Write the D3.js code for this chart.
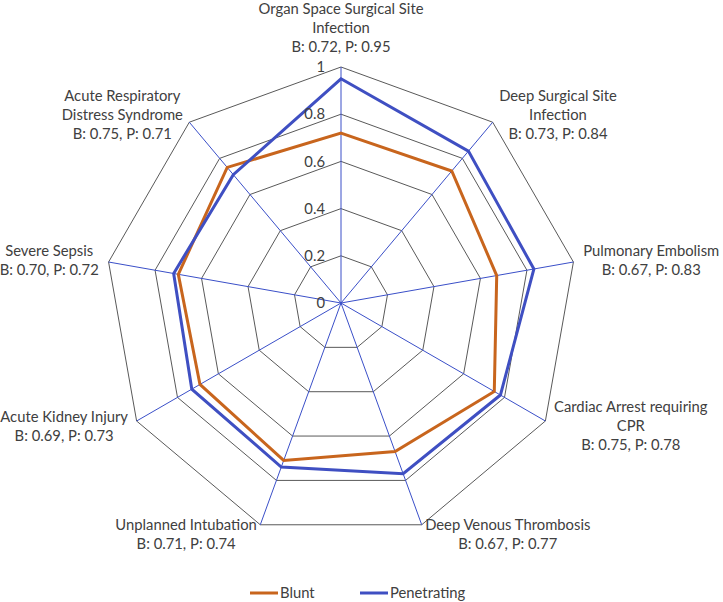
<!DOCTYPE html>
<html>
<head>
<meta charset="utf-8">
<script src="https://cdn.jsdelivr.net/npm/d3@7"></script>
<style>
  html, body { margin: 0; padding: 0; background: #fff; }
  svg { display: block; }
  text { font-family: Lato, "Open Sans", sans-serif; }
</style>
</head>
<body>
<svg id="chart" width="723" height="602"></svg>
<script>
// ---- Data ----
const categories = [
  "Organ Space Surgical Site\nInfection",
  "Deep Surgical Site\nInfection",
  "Pulmonary Embolism",
  "Cardiac Arrest requiring\nCPR",
  "Deep Venous Thrombosis",
  "Unplanned Intubation",
  "Acute Kidney Injury",
  "Severe Sepsis",
  "Acute Respiratory\nDistress Syndrome"
];
const bluntValues       = [0.72, 0.73, 0.67, 0.75, 0.67, 0.71, 0.69, 0.70, 0.75];
const penetratingValues = [0.95, 0.84, 0.83, 0.78, 0.77, 0.74, 0.73, 0.72, 0.71];
const tickValues = [0, 0.2, 0.4, 0.6, 0.8, 1];
const tickLabels = ["0", "0.2", "0.4", "0.6", "0.8", "1"];
const seriesNames = ["Blunt", "Penetrating"];

// ---- Layout ----
const svg = d3.select("#chart");
const cx = 341, cy = 303, R = 236;
const n = categories.length;
const step = 2 * Math.PI / n;
const r = d3.scaleLinear().domain([0, 1]).range([0, R]);
const colors = { Blunt: "#C8651D", Penetrating: "#3F4FC2" };
const gridColor = "#595959";
const spokeColor = "#3A4FC8";
const textColor = "#404040";
const fontSize = 14.8;
const lineH = 19;

const g = svg.append("g").attr("transform", `translate(${cx},${cy})`);

// Rings
const ringLine = d3.lineRadial()
  .angle((d, i) => i * step)
  .radius(d => r(d))
  .curve(d3.curveLinearClosed);

g.selectAll("path.ring")
  .data(tickValues.filter(t => t > 0))
  .join("path")
  .attr("class", "ring")
  .attr("d", t => ringLine(d3.range(n).map(() => t)))
  .attr("fill", "none")
  .attr("stroke", gridColor)
  .attr("stroke-width", 1);

// Spokes
g.selectAll("line.spoke")
  .data(d3.range(n))
  .join("line")
  .attr("class", "spoke")
  .attr("x1", 0).attr("y1", 0)
  .attr("x2", i => r(1) * Math.sin(i * step))
  .attr("y2", i => -r(1) * Math.cos(i * step))
  .attr("stroke", spokeColor)
  .attr("stroke-width", 1);

// Series
const series = [
  { name: "Blunt", values: bluntValues },
  { name: "Penetrating", values: penetratingValues }
];
g.selectAll("path.series")
  .data(series)
  .join("path")
  .attr("class", "series")
  .attr("d", s => ringLine(s.values))
  .attr("fill", "none")
  .attr("stroke", s => colors[s.name])
  .attr("stroke-width", 3)
  .attr("stroke-linejoin", "miter");

// Tick labels
g.selectAll("text.tick")
  .data(tickValues)
  .join("text")
  .attr("class", "tick")
  .attr("x", -16)
  .attr("y", t => -r(t))
  .attr("dy", "0.35em")
  .attr("text-anchor", "end")
  .attr("font-size", fontSize)
  .attr("fill", textColor)
  .text((t, i) => tickLabels[i]);

// Category labels
const fmt = d3.format(".2f");
categories.forEach((cat, i) => {
  const a = i * step;
  const s = Math.sin(a), c = Math.cos(a);
  const lines = cat.split("\n").concat([`B: ${fmt(bluntValues[i])}, P: ${fmt(penetratingValues[i])}`]);
  const grp = g.append("g");
  const texts = grp.selectAll("text")
    .data(lines)
    .join("text")
    .attr("text-anchor", "middle")
    .attr("font-size", fontSize)
    .attr("fill", textColor)
    .attr("dy", "0.35em")
    .text(d => d);
  const w = d3.max(texts.nodes(), nd => nd.getComputedTextLength());
  const h = lines.length * lineH;
  const vx = r(1) * s, vy = -r(1) * c;
  let bx, by;
  if (Math.abs(s) < 0.1) {
    bx = vx;
    by = vy - Math.sign(c) * (h / 2 + 11);
  } else {
    bx = vx + 10 * s + Math.sign(s) * w / 2;
    by = vy - 10 * c;
  }
  texts.attr("x", bx)
    .attr("y", (d, k) => by + (k - (lines.length - 1) / 2) * lineH);
});

// Legend
const legendItems = [
  { name: seriesNames[0], x: 250 },
  { name: seriesNames[1], x: 360 }
];
const lg = svg.append("g");
legendItems.forEach(item => {
  lg.append("line")
    .attr("x1", item.x).attr("x2", item.x + 28)
    .attr("y1", 593).attr("y2", 593)
    .attr("stroke", colors[item.name])
    .attr("stroke-width", 3);
  lg.append("text")
    .attr("x", item.x + 30)
    .attr("y", 593)
    .attr("dy", "0.35em")
    .attr("font-size", fontSize)
    .attr("fill", textColor)
    .text(item.name);
});
</script>
</body>
</html>
